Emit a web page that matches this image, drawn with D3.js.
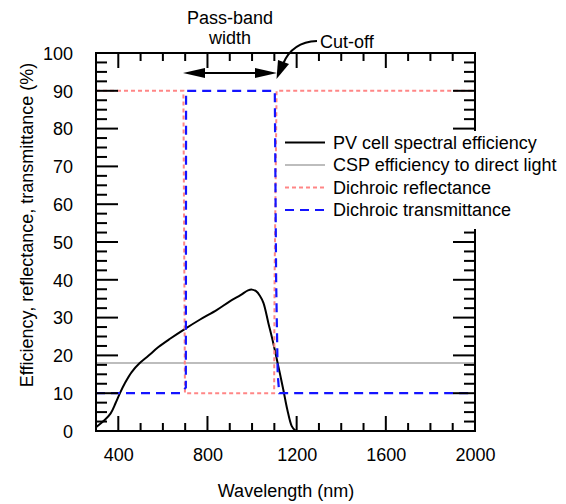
<!DOCTYPE html>
<html><head><meta charset="utf-8">
<script src="https://cdn.jsdelivr.net/npm/d3@7"></script>
<style>html,body{margin:0;padding:0;background:#fff;}svg{display:block;font-family:"Liberation Sans",Arial,sans-serif;}</style>
</head><body>
<svg id="c" width="566" height="504"></svg>
<script>
// ---- data ----
const pvEfficiency = [[300,1],[335,2.7],[365,4.6],[388,7.4],[408,10.1],[430,12.7],[460,15.6],[495,17.9],[535,19.9],[580,22.2],[632,24.4],[696,26.9],[767,29.5],[841,32],[900,34.3],[950,36],[982,37.2],[1000,37.4],[1018,37],[1035,35.8],[1051,33.9],[1073,28.6],[1095,23.3],[1118,17.1],[1140,11],[1158,5.7],[1178,1.3],[1193,0.2],[1200,0]];
const cspEfficiency = [[300,18],[2000,18]];
const dichroicReflectance = [[300,90],[692,90],[699,10],[1099,10],[1101,40],[1110,90],[2000,90]];
const dichroicTransmittance = [[300,10],[677,10],[703,11.5],[704,90],[1102,90],[1108,40],[1115,15],[1122,10],[2000,10]];
const xTickLabels = [400,800,1200,1600,2000];
const yTickLabels = [0,10,20,30,40,50,60,70,80,90,100];
const xMinorTicks = d3.range(300,2001,100);
const yMinorTicks = d3.range(0,100.1,2.5);
const legendItems = ["PV cell spectral efficiency","CSP efficiency to direct light","Dichroic reflectance","Dichroic transmittance"];

// ---- layout ----
const L=96, R=475, T=53, B=431;
const x = d3.scaleLinear().domain([300,2000]).range([L,R]);
const y = d3.scaleLinear().domain([0,100]).range([B,T]);
const svg = d3.select("#c");
const FONT = "Liberation Sans, Arial, sans-serif";
const styles = [
  {color:"#000", width:2, dash:null},
  {color:"#bdbdbd", width:2, dash:null},
  {color:"#ff8686", width:2, dash:"4,3"},
  {color:"#1414ff", width:2.2, dash:"9,6"}
];

svg.append("defs").append("clipPath").attr("id","clip")
  .append("rect").attr("x",L).attr("y",T).attr("width",R-L).attr("height",B-T);

const line = d3.line().x(d=>x(d[0])).y(d=>y(d[1]));
const smooth = d3.line().x(d=>x(d[0])).y(d=>y(d[1])).curve(d3.curveCatmullRom.alpha(0.5));
const g = svg.append("g").attr("clip-path","url(#clip)");
function draw(data, st, gen){
  g.append("path").attr("d",gen(data)).attr("fill","none")
   .attr("stroke",st.color).attr("stroke-width",st.width)
   .attr("stroke-dasharray",st.dash);
}
draw(cspEfficiency, styles[1], line);
draw(pvEfficiency, styles[0], smooth);
draw(dichroicReflectance, styles[2], line);
draw(dichroicTransmittance, styles[3], line);

// ---- axes (ticks inward on all sides) ----
const tg = svg.append("g").attr("stroke","#000").attr("stroke-width",2);
xMinorTicks.forEach(v=>{
  const len = xTickLabels.includes(v)?15:8;
  tg.append("line").attr("x1",x(v)).attr("x2",x(v)).attr("y1",B).attr("y2",B-len);
  tg.append("line").attr("x1",x(v)).attr("x2",x(v)).attr("y1",T).attr("y2",T+len);
});
yMinorTicks.forEach(v=>{
  const len = (v%10===0)?22:11;
  tg.append("line").attr("y1",y(v)).attr("y2",y(v)).attr("x1",L).attr("x2",L+len);
  tg.append("line").attr("y1",y(v)).attr("y2",y(v)).attr("x1",R).attr("x2",R-len);
});
svg.append("rect").attr("x",L).attr("y",T).attr("width",R-L).attr("height",B-T)
  .attr("fill","none").attr("stroke","#000").attr("stroke-width",2);

const xAxis = d3.axisBottom(x).tickValues(xTickLabels).tickFormat(d3.format("d")).tickSize(0).tickPadding(0);
const xa = svg.append("g").attr("transform",`translate(0,${B})`).call(xAxis);
xa.select(".domain").remove();
xa.selectAll("text").attr("font-size",18).attr("font-family",FONT)
  .attr("fill","#000").attr("dy",null).attr("y",30);
const yAxis = d3.axisLeft(y).tickValues(yTickLabels).tickFormat(d3.format("d")).tickSize(0).tickPadding(0);
const ya = svg.append("g").attr("transform",`translate(73,0)`).call(yAxis);
ya.select(".domain").remove();
ya.selectAll("text").attr("font-size",18).attr("font-family",FONT)
  .attr("fill","#000").attr("dy","0.35em").attr("x",0);

svg.append("text").attr("x",286).attr("y",497).attr("text-anchor","middle")
  .attr("font-size",18).text("Wavelength (nm)");
svg.append("text").attr("transform","translate(33,225) rotate(-90)").attr("text-anchor","middle")
  .attr("font-size",18).text("Efficiency, reflectance, transmittance (%)");

// ---- legend (white background hides frame) ----
const lg = svg.append("g");
lg.append("rect").attr("x",281).attr("y",131).attr("width",566-281).attr("height",98).attr("fill","#fff");
legendItems.forEach((t,i)=>{
  const yy = 142.5 + i*22.5;
  const st = styles[i];
  lg.append("line").attr("x1",285).attr("x2",325).attr("y1",yy).attr("y2",yy)
    .attr("stroke",st.color).attr("stroke-width",st.width).attr("stroke-dasharray",st.dash);
  lg.append("text").attr("x",333).attr("y",yy+6).attr("font-size",18).text(t);
});

// ---- annotations ----
svg.append("text").attr("x",230).attr("y",24).attr("text-anchor","middle").attr("font-size",18).text("Pass-band");
svg.append("text").attr("x",230).attr("y",44).attr("text-anchor","middle").attr("font-size",18).text("width");
svg.append("text").attr("x",320).attr("y",48).attr("font-size",18).text("Cut-off");
const ay = 73;
svg.append("line").attr("x1",200).attr("x2",258).attr("y1",ay).attr("y2",ay).attr("stroke","#000").attr("stroke-width",2);
svg.append("path").attr("d",`M183,${ay} L205,${ay-5} L205,${ay+5} Z`).attr("fill","#000");
svg.append("path").attr("d",`M277,${ay} L255,${ay-5} L255,${ay+5} Z`).attr("fill","#000");
// curved arrow
svg.append("path").attr("d","M317,41 Q292,42 283,64").attr("fill","none").attr("stroke","#000").attr("stroke-width",2);
svg.append("path").attr("d","M276.5,79 L278,60 L289,64 Z").attr("fill","#000");
</script>
</body></html>
